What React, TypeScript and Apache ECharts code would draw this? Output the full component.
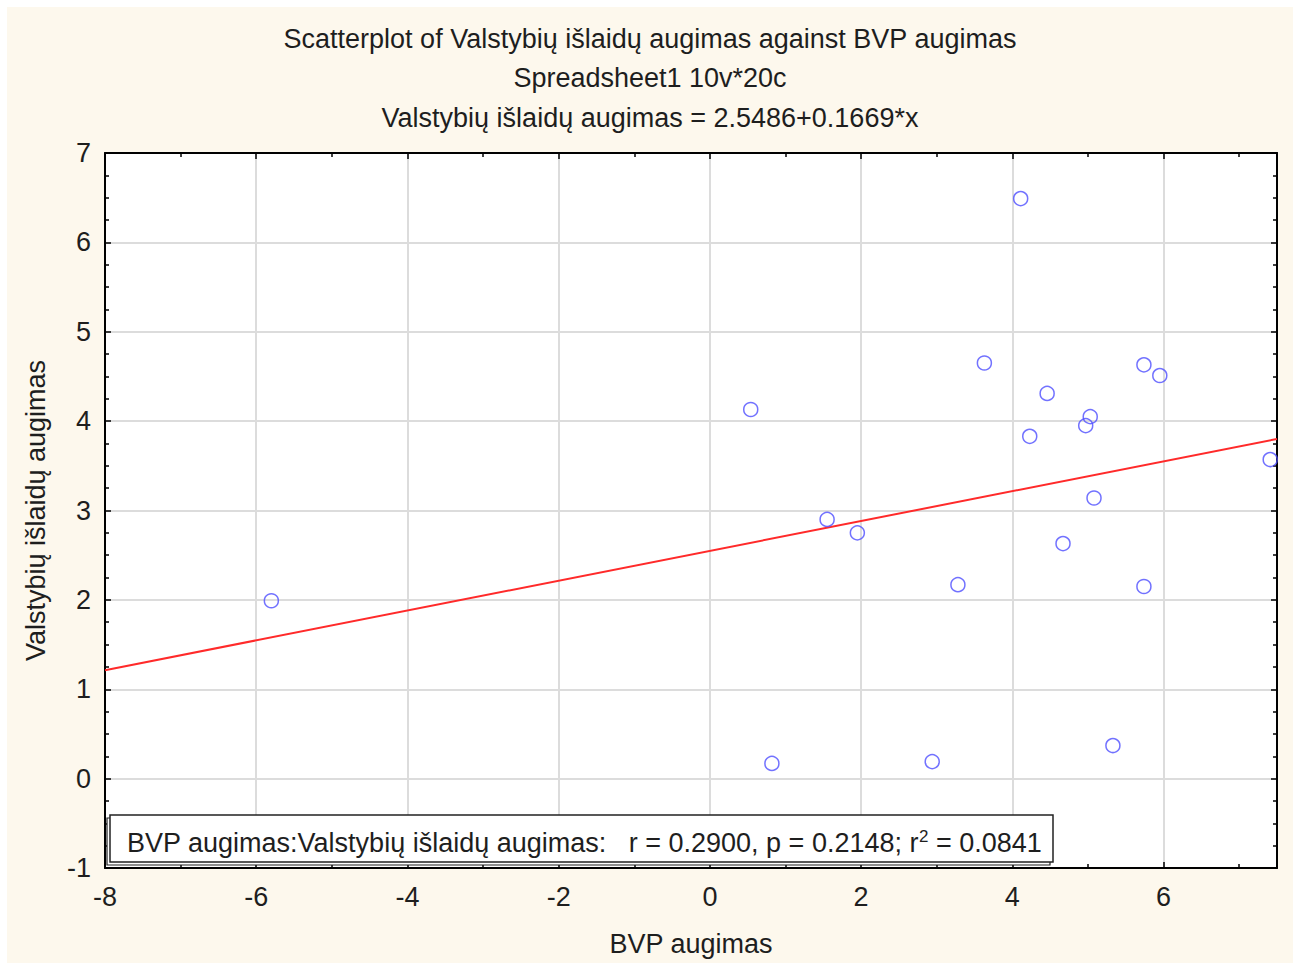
import React, { useEffect, useRef } from "react";
import * as echarts from "echarts";

const titleLines = [
  "Scatterplot of Valstybių išlaidų augimas against BVP augimas",
  "Spreadsheet1 10v*20c",
  "Valstybių išlaidų augimas = 2.5486+0.1669*x",
];
const xName = "BVP augimas";
const yName = "Valstybių išlaidų augimas";

const bvpAugimas = [
  -5.8, 0.54, 0.82, 1.55, 1.95, 2.94, 3.28, 3.63, 4.11, 4.23,
  4.46, 4.67, 4.97, 5.03, 5.08, 5.33, 5.74, 5.74, 5.95, 7.41,
];
const islaiduAugimas = [
  1.99, 4.13, 0.17, 2.9, 2.75, 0.19, 2.17, 4.65, 6.49, 3.83,
  4.31, 2.63, 3.95, 4.05, 3.14, 0.37, 4.63, 2.15, 4.51, 3.57,
];
const intercept = 2.5486;
const slope = 0.1669;
const fitX = [-8, 7.5];
const statText = "BVP augimas:Valstybių išlaidų augimas:   r = 0.2900, p = 0.2148; r";
const statTail = " = 0.0841";

const FONT = "'Liberation Sans', Arial, sans-serif";
const TXT = "#1e1e1e";
const FS = 27;

export default function App() {
  const ref = useRef<HTMLDivElement>(null);
  useEffect(() => {
    if (!ref.current) return;
    const chart = echarts.init(ref.current, null, { renderer: "svg" });
    const gridL = 98, gridT = 146, gridW = 1172, gridH = 715;
    const axisCommon = {
      type: "value" as const,
      axisLine: { show: true, onZero: false, lineStyle: { color: "#000", width: 2 } },
      axisTick: { show: true, inside: true, length: 6, lineStyle: { color: "#000", width: 1.5 } },
      minorTick: { show: true, length: 4, lineStyle: { color: "#000", width: 1.5 } },
    };
    chart.setOption({
      animation: false,
      backgroundColor: "#fdf8ed",
      textStyle: { fontFamily: FONT },
      title: {
        text: titleLines.join("\n"),
        left: "center",
        top: 12,
        padding: 0,
        textStyle: { fontFamily: FONT, fontSize: FS, fontWeight: "normal", color: TXT, lineHeight: 39.5 },
      },
      grid: { left: gridL, top: gridT, width: gridW, height: gridH, show: true, backgroundColor: "#fff", borderWidth: 0 },
      xAxis: [
        {
          ...axisCommon,
          position: "bottom",
          min: -8,
          max: 7.5,
          interval: 2,
          minorTick: { ...axisCommon.minorTick, splitNumber: 2 },
          splitLine: { show: true, lineStyle: { color: "#dcdcdc", width: 2 } },
          axisLabel: {
            fontSize: FS, color: TXT, margin: 15, fontFamily: FONT,
            formatter: (v: number) => (Math.abs(v % 2) < 1e-9 ? String(v) : ""),
          },
          name: xName,
          nameLocation: "middle",
          nameGap: 62,
          nameTextStyle: { fontSize: FS, color: TXT, fontFamily: FONT },
        },
        {
          ...axisCommon,
          position: "top",
          min: -8,
          max: 7.5,
          interval: 2,
          minorTick: { ...axisCommon.minorTick, splitNumber: 2 },
          splitLine: { show: false },
          axisLabel: { show: false },
        },
      ],
      yAxis: [
        {
          ...axisCommon,
          position: "left",
          min: -1,
          max: 7,
          interval: 1,
          minorTick: { ...axisCommon.minorTick, splitNumber: 4 },
          splitLine: { show: true, lineStyle: { color: "#dcdcdc", width: 2 } },
          axisLabel: { fontSize: FS, color: TXT, margin: 14, fontFamily: FONT },
          name: yName,
          nameLocation: "middle",
          nameGap: 56,
          nameTextStyle: { fontSize: FS, color: TXT, fontFamily: FONT },
        },
        {
          ...axisCommon,
          position: "right",
          min: -1,
          max: 7,
          interval: 1,
          minorTick: { ...axisCommon.minorTick, splitNumber: 4 },
          splitLine: { show: false },
          axisLabel: { show: false },
        },
      ],
      series: [
        {
          type: "line",
          xAxisIndex: 0,
          yAxisIndex: 0,
          data: fitX.map((x) => [x, intercept + slope * x]),
          symbol: "none",
          lineStyle: { color: "#ff2a2a", width: 2 },
          z: 3,
        },
        {
          type: "scatter",
          xAxisIndex: 0,
          yAxisIndex: 0,
          data: bvpAugimas.map((x, i) => [x, islaiduAugimas[i]]),
          symbol: "circle",
          symbolSize: 14,
          itemStyle: { color: "rgba(0,0,0,0)", borderColor: "#4f4fff", borderWidth: 1.5 },
          z: 4,
        },
      ],
      graphic: [
        { type: "rect", z: 100, shape: { x: 100, y: 811, width: 943, height: 47 }, style: { fill: "#fff", stroke: "#222", lineWidth: 1.2 } },
        { type: "rect", z: 101, shape: { x: 103, y: 808, width: 943, height: 47 }, style: { fill: "#fff", stroke: "#222", lineWidth: 1.5 } },
        {
          type: "text",
          z: 102,
          x: 120,
          y: 836,
          style: {
            text: "{a|" + statText + "}{s|2}{a|" + statTail + "}",
            verticalAlign: "middle",
            rich: {
              a: { fontSize: FS, fontFamily: FONT, fill: TXT, color: TXT },
              s: { fontSize: 17, fontFamily: FONT, fill: TXT, color: TXT, verticalAlign: "top", padding: [0, 0, 14, 0] },
            },
          },
        },
      ],
    });
    return () => chart.dispose();
  }, []);
  return (
    <div
      ref={ref}
      style={{ position: "absolute", left: 7, top: 7, width: 1286, height: 956 }}
    />
  );
}
